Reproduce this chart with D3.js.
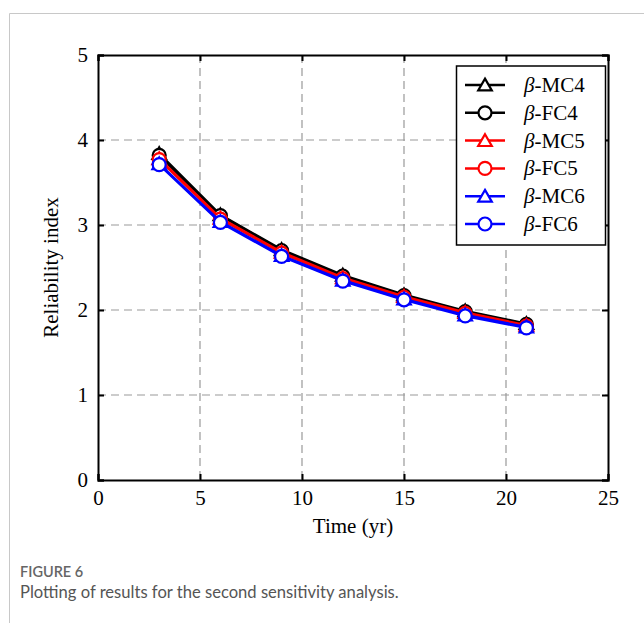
<!DOCTYPE html>
<html><head><meta charset="utf-8">
<script src="https://cdn.jsdelivr.net/npm/d3@7"></script>
<style>body{margin:0;background:#fff;} svg{display:block;}</style>
</head><body>
<script>
const years = [3, 6, 9, 12, 15, 18, 21];
const mc4 = [3.84, 3.12, 2.71, 2.41, 2.18, 1.99, 1.84];
const fc4 = [3.82, 3.11, 2.70, 2.40, 2.17, 1.98, 1.83];
const mc5 = [3.78, 3.08, 2.68, 2.38, 2.16, 1.97, 1.82];
const fc5 = [3.77, 3.07, 2.67, 2.37, 2.15, 1.96, 1.81];
const mc6 = [3.72, 3.04, 2.64, 2.35, 2.13, 1.94, 1.80];
const fc6 = [3.71, 3.03, 2.63, 2.34, 2.12, 1.93, 1.79];
const seriesNames = ["MC4", "FC4", "MC5", "FC5", "MC6", "FC6"];
const seriesColors = ["#000000", "#000000", "#ff0000", "#ff0000", "#0000ff", "#0000ff"];
const seriesMarkers = ["triangle", "circle", "triangle", "circle", "triangle", "circle"];
const xTicks = [0, 5, 10, 15, 20, 25];
const yTicks = [0, 1, 2, 3, 4, 5];
const seriesValues = [mc4, fc4, mc5, fc5, mc6, fc6];

const W = 644, H = 623;
const svg = d3.select("body").append("svg").attr("width", W).attr("height", H);
svg.append("rect").attr("width", W).attr("height", H).attr("fill", "#fff");
// frame
svg.append("path").attr("d", "M9.5,623 V13.5 H644").attr("fill", "none").attr("stroke", "#c8c8c8").attr("stroke-width", 1);

const L = 98, R = 608, T = 55, B = 480;
const x = d3.scaleLinear().domain([0, 25]).range([L, R]);
const y = d3.scaleLinear().domain([0, 5]).range([B, T]);
const serif = "'Liberation Serif','Times New Roman',serif";

// grid
const g = svg.append("g");
g.selectAll(".gx").data(xTicks.filter(d => d > 0 && d < 25)).enter().append("line")
  .attr("x1", d => x(d)).attr("x2", d => x(d)).attr("y1", T).attr("y2", B)
  .attr("stroke", "#999").attr("stroke-width", 1.2).attr("stroke-dasharray", "8,5");
g.selectAll(".gy").data(yTicks.filter(d => d > 0 && d < 5)).enter().append("line")
  .attr("y1", d => y(d)).attr("y2", d => y(d)).attr("x1", L).attr("x2", R)
  .attr("stroke", "#999").attr("stroke-width", 1.2).attr("stroke-dasharray", "8,5");

// axes
const tickLen = 6;
const xb = svg.append("g").attr("transform", `translate(0,${B})`)
  .call(d3.axisBottom(x).tickValues(xTicks).tickSize(-tickLen).tickPadding(10).tickFormat(d3.format("d")));
const xt = svg.append("g").attr("transform", `translate(0,${T})`)
  .call(d3.axisTop(x).tickValues(xTicks).tickSize(-tickLen).tickFormat(""));
const yl = svg.append("g").attr("transform", `translate(${L},0)`)
  .call(d3.axisLeft(y).tickValues(yTicks).tickSize(-tickLen).tickPadding(10).tickFormat(d3.format("d")));
const yr = svg.append("g").attr("transform", `translate(${R},0)`)
  .call(d3.axisRight(y).tickValues(yTicks).tickSize(-tickLen).tickFormat(""));
[xb, xt, yl, yr].forEach(a => {
  a.select(".domain").attr("stroke", "#000").attr("stroke-width", 2);
  a.selectAll(".tick line").attr("stroke", "#000").attr("stroke-width", 2);
  a.selectAll("text").attr("font-family", serif).attr("font-size", 21).attr("fill", "#000");
});
xb.selectAll("text").attr("dy", "0.71em");

// titles
svg.append("text").attr("x", (L + R) / 2).attr("y", 533).attr("text-anchor", "middle")
  .attr("font-family", serif).attr("font-size", 21).text("Time (yr)");
svg.append("text").attr("transform", `translate(58,${(T + B) / 2}) rotate(-90)`).attr("text-anchor", "middle")
  .attr("font-family", serif).attr("font-size", 21).text("Reliability index");

// lines and markers
const line = d3.line().x((d, i) => x(years[i])).y(d => y(d));
const triSym = d3.symbol().type(d3.symbolTriangle).size(80);
function drawMarker(sel, type, color, cx, cy) {
  if (type === "circle") {
    sel.append("circle").attr("cx", cx).attr("cy", cy).attr("r", 6.5)
      .attr("fill", "#fff").attr("stroke", color).attr("stroke-width", 2.2);
  } else {
    sel.append("path").attr("d", triSym()).attr("transform", `translate(${cx},${cy + 1.5})`)
      .attr("fill", "#fff").attr("stroke", color).attr("stroke-width", 2.2);
  }
}
const plot = svg.append("g");
seriesValues.forEach((vals, si) => {
  const sg = plot.append("g");
  sg.append("path").attr("d", line(vals)).attr("fill", "none")
    .attr("stroke", seriesColors[si]).attr("stroke-width", 2.5);
  vals.forEach((v, i) => drawMarker(sg, seriesMarkers[si], seriesColors[si], x(years[i]), y(v)));
});

// legend
const lg = svg.append("g");
lg.append("rect").attr("x", 456.5).attr("y", 66).attr("width", 149).attr("height", 179)
  .attr("fill", "#fff").attr("stroke", "#000").attr("stroke-width", 1.5);
seriesNames.forEach((n, i) => {
  const ly = 85 + i * 27.8;
  lg.append("line").attr("x1", 465).attr("x2", 505).attr("y1", ly).attr("y2", ly)
    .attr("stroke", seriesColors[i]).attr("stroke-width", 2.5);
  drawMarker(lg, seriesMarkers[i], seriesColors[i], 485, ly);
  const t = lg.append("text").attr("x", 524).attr("y", ly + 7)
    .attr("font-family", serif).attr("font-size", 21);
  t.append("tspan").attr("font-style", "italic").text("β");
  t.append("tspan").text("-" + n);
});

// caption
const sans = "Lato,'Open Sans',sans-serif";
svg.append("text").attr("x", 20).attr("y", 577).attr("font-family", sans).attr("font-size", 14.5)
  .attr("font-weight", 600).attr("fill", "#666").text("FIGURE 6");
svg.append("text").attr("x", 20).attr("y", 598).attr("font-family", sans).attr("font-size", 16.6)
  .attr("fill", "#555").text("Plotting of results for the second sensitivity analysis.");
</script>
</body></html>
